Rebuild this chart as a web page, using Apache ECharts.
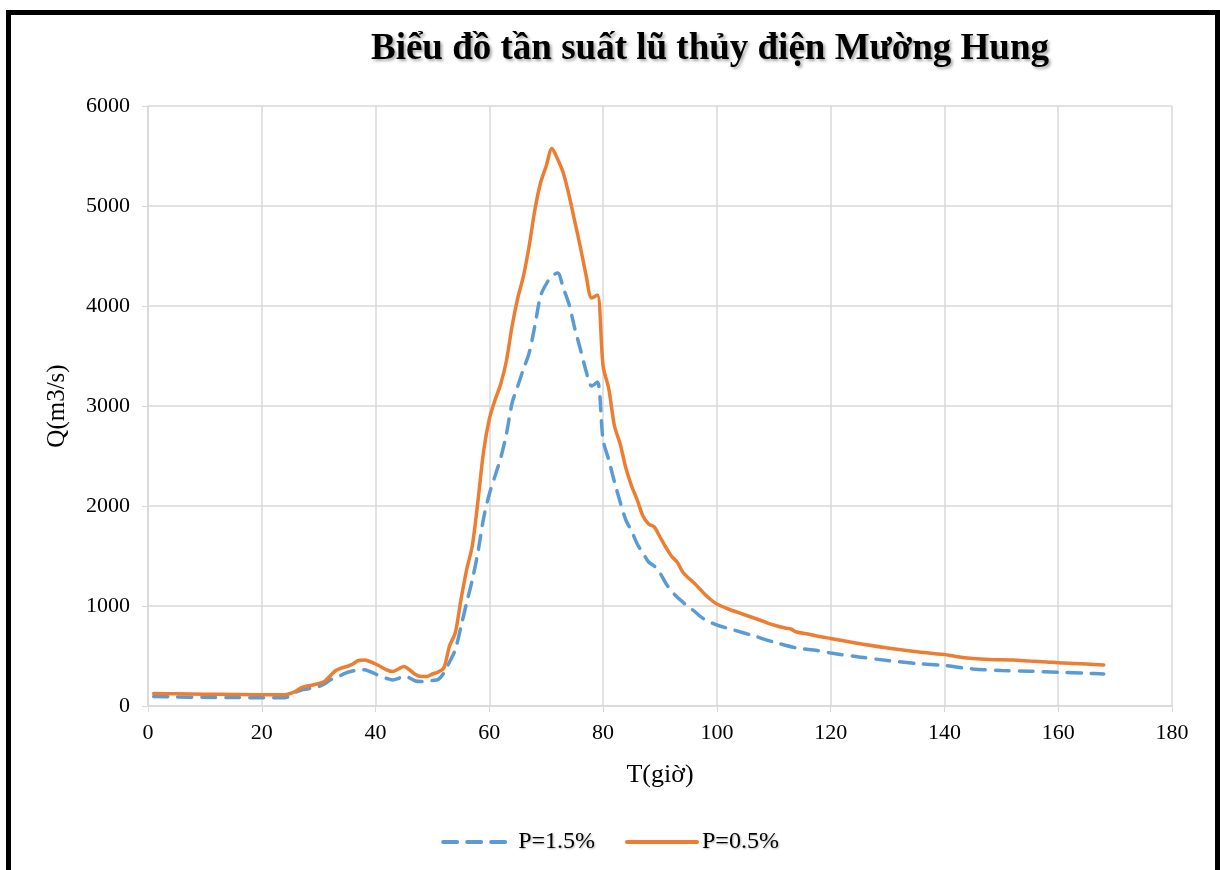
<!DOCTYPE html>
<html>
<head>
<meta charset="utf-8">
<script src="https://cdn.jsdelivr.net/npm/echarts@6/dist/echarts.min.js"></script>
<style>
  body { margin: 0; background: #fff; }
  #frame { position: absolute; left: 6px; top: 10px; width: 1204px; height: 900px; border: 5px solid #000; }
  #chart { position: absolute; left: 0; top: 0; width: 1220px; height: 870px; }
</style>
</head>
<body>
<div id="frame"></div>
<div id="chart"></div>
<script>
  // thời gian (giờ) và lưu lượng Q (m3/s)
  const hoursP05 = [1, 5, 10, 15, 20, 24, 25, 26, 27, 28, 29, 30, 31, 32, 33, 34, 35, 36, 37, 38, 39, 40,
    41, 42, 43, 44, 45, 46, 47, 48, 49, 50, 51, 52, 53, 54, 55, 56, 57, 58, 59, 60,
    61, 62, 63, 64, 65, 66, 67, 68, 69, 70, 71, 72, 73, 74, 75, 76, 77, 78, 79, 80,
    81, 82, 83, 84, 85, 86, 87, 88, 89, 90, 91, 92, 93, 94, 95, 96, 97, 98, 99, 100,
    102, 104, 106, 108, 110, 112, 113, 114, 116, 118, 120, 123, 126, 130, 134, 138, 140,
    142, 145, 148, 152, 155, 158, 160, 163, 165, 168]
  const qP05 = [125, 122, 118, 115, 112, 112, 125, 150, 185, 200, 210, 225, 245, 300, 355, 380, 395, 420, 455, 460, 445, 420,
    390, 360, 345, 370, 395, 360, 315, 295, 295, 320, 340, 380, 600, 730, 1060, 1360, 1600, 2050, 2550, 2870,
    3060, 3220, 3450, 3800, 4080, 4300, 4600, 4960, 5230, 5400, 5575, 5470, 5330, 5110, 4850, 4590, 4310, 4080, 4110, 3400,
    3170, 2800, 2620, 2380, 2200, 2060, 1900, 1820, 1790, 1690, 1590, 1500, 1440, 1340, 1280, 1230, 1170, 1110, 1060, 1020,
    970, 930, 890, 850, 810, 780, 770, 740, 720, 695, 675, 645, 615, 580, 550, 525, 515,
    495, 475, 465, 460, 450, 440, 432, 425, 420, 410]

  const hoursP15 = [1, 5, 10, 15, 20, 24, 25, 26, 27, 28, 29, 30, 31, 32, 33, 34, 35, 36, 37, 38, 39, 40,
    41, 42, 43, 44, 45, 46, 47, 48, 49, 50, 51, 52, 53, 54, 55, 56, 57, 58, 59, 60,
    61, 62, 63, 64, 65, 66, 67, 68, 69, 70, 71, 72, 73, 74, 75, 76, 77, 78, 79, 80,
    81, 82, 83, 84, 85, 86, 87, 88, 89, 90, 91, 92, 93, 94, 95, 96, 97, 98, 100,
    103, 106, 110, 114, 117, 120, 125, 130, 135, 140, 145, 150, 155, 160, 165, 168]
  const qP15 = [95, 90, 87, 85, 83, 83, 100, 140, 160, 170, 180, 195, 220, 260, 285, 310, 335, 350, 360, 362, 345, 320,
    295, 275, 260, 275, 300, 280, 250, 245, 248, 255, 265, 330, 440, 560, 790, 1030, 1260, 1540, 1880, 2120,
    2300, 2480, 2720, 3030, 3200, 3370, 3530, 3800, 4100, 4220, 4300, 4330, 4180, 4020, 3780, 3570, 3350, 3200, 3240, 2660,
    2460, 2240, 2040, 1860, 1750, 1620, 1530, 1440, 1400, 1330, 1230, 1150, 1090, 1040, 990, 950, 900, 860, 810,
    760, 710, 640, 580, 560, 530, 490, 455, 425, 405, 370, 355, 348, 337, 328, 320]

  const seriesNames = ['P=1.5%', 'P=0.5%']

  const zip = (xs, ys) => xs.map((x, i) => [x, ys[i]])
  const serif = '"Liberation Serif", "DejaVu Serif", serif'

  const chart = echarts.init(document.getElementById('chart'))
  chart.setOption({
    animation: false,
    title: {
      text: 'Biểu đồ tần suất lũ thủy điện Mường Hung',
      left: 705,
      textAlign: 'center',
      top: 26,
      textStyle: {
        fontFamily: serif,
        fontSize: 37,
        fontWeight: 'bold',
        color: '#000',
        textShadowColor: 'rgba(0,0,0,0.35)',
        textShadowBlur: 3,
        textShadowOffsetX: 2,
        textShadowOffsetY: 2
      }
    },
    grid: { left: 148, right: 48, top: 106, bottom: 164 },
    legend: {
      data: seriesNames,
      bottom: 11,
      left: 'center',
      itemWidth: 70,
      itemHeight: 14,
      itemGap: 30,
      itemStyle: { opacity: 0 },
      lineStyle: { width: 4 },
      textStyle: {
        fontFamily: serif,
        fontSize: 24,
        color: '#000',
        textShadowColor: 'rgba(0,0,0,0.3)',
        textShadowBlur: 2,
        textShadowOffsetX: 1,
        textShadowOffsetY: 1
      }
    },
    xAxis: {
      type: 'value',
      min: 0,
      max: 180,
      interval: 20,
      name: 'T(giờ)',
      nameLocation: 'middle',
      nameGap: 56,
      nameTextStyle: { fontFamily: serif, fontSize: 26, color: '#000' },
      axisLine: { show: true, lineStyle: { color: '#d9d9d9', width: 1.5 } },
      axisTick: { show: true, length: 6, lineStyle: { color: '#d9d9d9' } },
      axisLabel: { fontFamily: serif, fontSize: 22, color: '#000', margin: 16 },
      splitLine: { show: true, lineStyle: { color: '#d9d9d9', width: 1.5 } }
    },
    yAxis: {
      type: 'value',
      min: 0,
      max: 6000,
      interval: 1000,
      name: 'Q(m3/s)',
      nameLocation: 'middle',
      nameGap: 78,
      nameTextStyle: { fontFamily: serif, fontSize: 25, color: '#000' },
      axisLine: { show: true, lineStyle: { color: '#d9d9d9', width: 1.5 } },
      axisTick: { show: true, length: 6, lineStyle: { color: '#d9d9d9' } },
      axisLabel: { fontFamily: serif, fontSize: 22, color: '#000', margin: 18, formatter: v => String(v) },
      splitLine: { show: true, lineStyle: { color: '#d9d9d9', width: 1.5 } }
    },
    series: [{
      name: seriesNames[0],
      type: 'line',
      data: zip(hoursP15, qP15),
      symbol: 'none',
      smooth: 0.3,
      color: '#5B9BD5',
      lineStyle: { width: 3.5, type: [14, 10], cap: 'round' }
    }, {
      name: seriesNames[1],
      type: 'line',
      data: zip(hoursP05, qP05),
      symbol: 'none',
      smooth: 0.3,
      color: '#ED7D31',
      lineStyle: { width: 3.5, cap: 'round' }
    }]
  })
</script>
</body>
</html>
